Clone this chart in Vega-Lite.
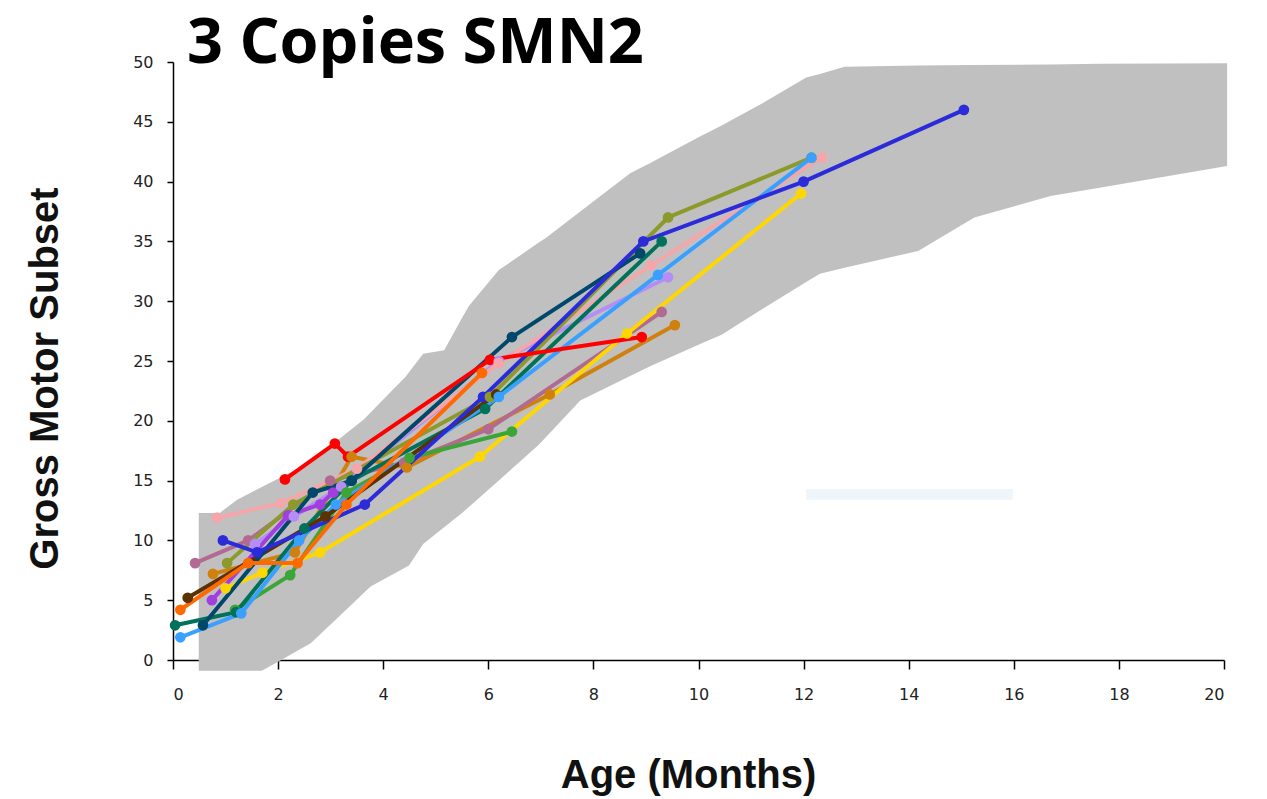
{
  "$schema": "https://vega.github.io/schema/vega-lite/v6.json",
  "width": 1051,
  "height": 598,
  "autosize": {"type": "none"},
  "padding": {"left": 173, "top": 62, "right": 43, "bottom": 139},
  "background": "white",
  "config": {
    "view": {"stroke": null},
    "axis": {
      "grid": false,
      "domainColor": "#000000",
      "domainWidth": 1.5,
      "tickColor": "#000000",
      "tickWidth": 1.5,
      "labelColor": "#222222",
      "labelFont": "DejaVu Sans",
      "labelFontSize": 16,
      "titleFont": "Liberation Sans",
      "titleFontWeight": "bold",
      "titleFontSize": 40,
      "titleColor": "#111111",
      "zindex": 1
    }
  },
  "title": {
    "text": "3 Copies SMN2",
    "anchor": "start",
    "frame": "group",
    "dx": 14,
    "dy": 72,
    "offset": 0,
    "baseline": "alphabetic",
    "font": "Open Sans",
    "fontWeight": "bold",
    "fontSize": 63,
    "color": "#000000"
  },
  "datasets": {
    "band": [
      {"age": 0.49, "upper": 12.3, "lower": -0.9},
      {"age": 0.89, "upper": 12.3, "lower": -0.9},
      {"age": 1.22, "upper": 13.4, "lower": -0.9},
      {"age": 1.69, "upper": 14.46, "lower": -0.9},
      {"age": 2.0, "upper": 15.15, "lower": -0.15},
      {"age": 2.62, "upper": 16.55, "lower": 1.4},
      {"age": 3.27, "upper": 18.85, "lower": 4.1},
      {"age": 3.63, "upper": 20.1, "lower": 5.6},
      {"age": 3.76, "upper": 20.7, "lower": 6.15},
      {"age": 4.43, "upper": 23.7, "lower": 7.76},
      {"age": 4.49, "upper": 24.05, "lower": 7.9},
      {"age": 4.76, "upper": 25.6, "lower": 9.7},
      {"age": 5.16, "upper": 25.9, "lower": 11.1},
      {"age": 5.5, "upper": 28.6, "lower": 12.3},
      {"age": 5.63, "upper": 29.6, "lower": 12.8},
      {"age": 6.2, "upper": 32.6, "lower": 15.0},
      {"age": 6.96, "upper": 34.9, "lower": 18.0},
      {"age": 7.1, "upper": 35.3, "lower": 18.65},
      {"age": 7.75, "upper": 37.5, "lower": 21.7},
      {"age": 8.7, "upper": 40.7, "lower": 23.74},
      {"age": 9.1, "upper": 41.6, "lower": 24.6},
      {"age": 10.0, "upper": 43.7, "lower": 26.35},
      {"age": 10.44, "upper": 44.7, "lower": 27.2},
      {"age": 11.2, "upper": 46.5, "lower": 29.3},
      {"age": 12.05, "upper": 48.7, "lower": 31.6},
      {"age": 12.31, "upper": 49.0, "lower": 32.3},
      {"age": 12.78, "upper": 49.6, "lower": 32.8},
      {"age": 14.18, "upper": 49.7, "lower": 34.2},
      {"age": 15.25, "upper": 49.75, "lower": 37.0},
      {"age": 16.7, "upper": 49.8, "lower": 38.8},
      {"age": 17.66, "upper": 49.85, "lower": 39.5},
      {"age": 20.06, "upper": 49.9, "lower": 41.3}
    ],
    "patch": [
      {"x0": 12.05, "x1": 15.98, "y0": 13.4, "y1": 14.3}
    ],
    "obs": [
      {"series": "orangebrown", "age": 0.76, "score": 7.2},
      {"series": "orangebrown", "age": 2.32, "score": 9},
      {"series": "orangebrown", "age": 3.4, "score": 17},
      {"series": "orangebrown", "age": 4.45, "score": 16.1},
      {"series": "orangebrown", "age": 7.17, "score": 22.2},
      {"series": "orangebrown", "age": 9.55, "score": 28},
      {"series": "mauve", "age": 0.42, "score": 8.1},
      {"series": "mauve", "age": 1.43, "score": 10},
      {"series": "mauve", "age": 2.99, "score": 15},
      {"series": "mauve", "age": 4.4, "score": 16.5},
      {"series": "mauve", "age": 6.0, "score": 19.3},
      {"series": "mauve", "age": 9.3, "score": 29.1},
      {"series": "yellow", "age": 1.0, "score": 6},
      {"series": "yellow", "age": 1.7, "score": 7.3},
      {"series": "yellow", "age": 2.8, "score": 9},
      {"series": "yellow", "age": 5.84, "score": 17},
      {"series": "yellow", "age": 8.64, "score": 27.3},
      {"series": "yellow", "age": 11.95, "score": 39},
      {"series": "lavender", "age": 1.56, "score": 9.7},
      {"series": "lavender", "age": 2.3, "score": 12},
      {"series": "lavender", "age": 3.2, "score": 14.5},
      {"series": "lavender", "age": 6.2, "score": 25},
      {"series": "lavender", "age": 9.42, "score": 32},
      {"series": "pink", "age": 0.84, "score": 11.9},
      {"series": "pink", "age": 2.05, "score": 13.1},
      {"series": "pink", "age": 3.5, "score": 16},
      {"series": "pink", "age": 6.2, "score": 24.8},
      {"series": "pink", "age": 9.1, "score": 33},
      {"series": "pink", "age": 12.35, "score": 42},
      {"series": "olive", "age": 1.03, "score": 8.1},
      {"series": "olive", "age": 2.29, "score": 13},
      {"series": "olive", "age": 6.03, "score": 22},
      {"series": "olive", "age": 9.42, "score": 37},
      {"series": "olive", "age": 12.15, "score": 42},
      {"series": "green", "age": 1.18, "score": 4.2},
      {"series": "green", "age": 2.23, "score": 7.1},
      {"series": "green", "age": 3.3, "score": 14},
      {"series": "green", "age": 4.5, "score": 16.9},
      {"series": "green", "age": 6.45, "score": 19.1},
      {"series": "tealgreen", "age": 0.04, "score": 2.9},
      {"series": "tealgreen", "age": 1.2, "score": 4},
      {"series": "tealgreen", "age": 2.5, "score": 11},
      {"series": "tealgreen", "age": 3.4, "score": 15},
      {"series": "tealgreen", "age": 5.94, "score": 21},
      {"series": "tealgreen", "age": 9.3, "score": 35},
      {"series": "lightblue", "age": 0.14, "score": 1.9},
      {"series": "lightblue", "age": 1.3, "score": 3.9},
      {"series": "lightblue", "age": 2.4, "score": 10},
      {"series": "lightblue", "age": 3.1, "score": 13},
      {"series": "lightblue", "age": 6.2, "score": 22},
      {"series": "lightblue", "age": 9.23, "score": 32.2},
      {"series": "lightblue", "age": 12.15, "score": 42},
      {"series": "purple", "age": 0.74, "score": 5},
      {"series": "purple", "age": 2.19, "score": 12.1},
      {"series": "purple", "age": 2.8, "score": 13},
      {"series": "purple", "age": 3.05, "score": 14},
      {"series": "darkbrown", "age": 0.28, "score": 5.2},
      {"series": "darkbrown", "age": 2.9, "score": 12},
      {"series": "darkbrown", "age": 6.15, "score": 22.2},
      {"series": "navy", "age": 0.57, "score": 2.9},
      {"series": "navy", "age": 2.66, "score": 14},
      {"series": "navy", "age": 3.4, "score": 15},
      {"series": "navy", "age": 6.45, "score": 27},
      {"series": "navy", "age": 8.89, "score": 34},
      {"series": "blue", "age": 0.95, "score": 10},
      {"series": "blue", "age": 1.6, "score": 9},
      {"series": "blue", "age": 3.65, "score": 13},
      {"series": "blue", "age": 5.9, "score": 22},
      {"series": "blue", "age": 8.95, "score": 35},
      {"series": "blue", "age": 12.0, "score": 40},
      {"series": "blue", "age": 15.05, "score": 46},
      {"series": "orange", "age": 0.14, "score": 4.2},
      {"series": "orange", "age": 1.43, "score": 8.1},
      {"series": "orange", "age": 2.37, "score": 8.1},
      {"series": "orange", "age": 3.3, "score": 13},
      {"series": "orange", "age": 5.88, "score": 24},
      {"series": "red", "age": 2.13, "score": 15.1},
      {"series": "red", "age": 3.08, "score": 18.1},
      {"series": "red", "age": 3.33, "score": 17},
      {"series": "red", "age": 6.03, "score": 25.1},
      {"series": "red", "age": 8.92, "score": 27}
    ]
  },
  "layer": [
    {
      "data": {"name": "band"},
      "mark": {"type": "area", "color": "#c0c0c0", "opacity": 1, "clip": false, "interpolate": "linear"},
      "encoding": {
        "x": {
          "field": "age", "type": "quantitative", "title": "Age (Months)",
          "scale": {"domain": [0, 20], "nice": false, "zero": false},
          "axis": {"values": [0, 2, 4, 6, 8, 10, 12, 14, 16, 18, 20], "tickSize": 9, "labelPadding": 17, "titleX": 515, "titleY": 115, "titleBaseline": "middle", "titleAnchor": "middle"}
        },
        "y": {
          "field": "upper", "type": "quantitative", "title": "Gross Motor Subset",
          "scale": {"domain": [0, 50], "nice": false, "zero": false},
          "axis": {"values": [0, 5, 10, 15, 20, 25, 30, 35, 40, 45, 50], "tickSize": 6, "labelPadding": 14, "titleX": -128, "titleY": 316, "titleAngle": -90, "titleBaseline": "middle", "titleAlign": "center"}
        },
        "y2": {"field": "lower"}
      }
    },
    {
      "data": {"name": "patch"},
      "mark": {"type": "rect", "color": "#eef5fb"},
      "encoding": {
        "x": {"field": "x0", "type": "quantitative", "title": "Age (Months)"},
        "x2": {"field": "x1"},
        "y": {"field": "y0", "type": "quantitative", "title": "Gross Motor Subset"},
        "y2": {"field": "y1"}
      }
    },
    {
      "data": {"name": "obs"},
      "mark": {"type": "line", "strokeWidth": 4, "point": {"size": 115, "filled": true, "opacity": 1}},
      "encoding": {
        "x": {"field": "age", "type": "quantitative", "title": "Age (Months)"},
        "y": {"field": "score", "type": "quantitative", "title": "Gross Motor Subset"},
        "color": {
          "field": "series", "type": "nominal", "legend": null,
          "scale": {
            "domain": ["orangebrown", "mauve", "yellow", "lavender", "pink", "olive", "green", "tealgreen", "lightblue", "purple", "darkbrown", "navy", "blue", "orange", "red"],
            "range": ["#d0800c", "#b26a92", "#ffd700", "#b48ef5", "#f4a6ab", "#8b9a2b", "#3ca537", "#00725a", "#3aa0ff", "#a23ee0", "#5b3200", "#00486b", "#2b2bd9", "#ff6a00", "#ff0000"]
          }
        },
        "order": {"field": "age"}
      }
    }
  ]
}
